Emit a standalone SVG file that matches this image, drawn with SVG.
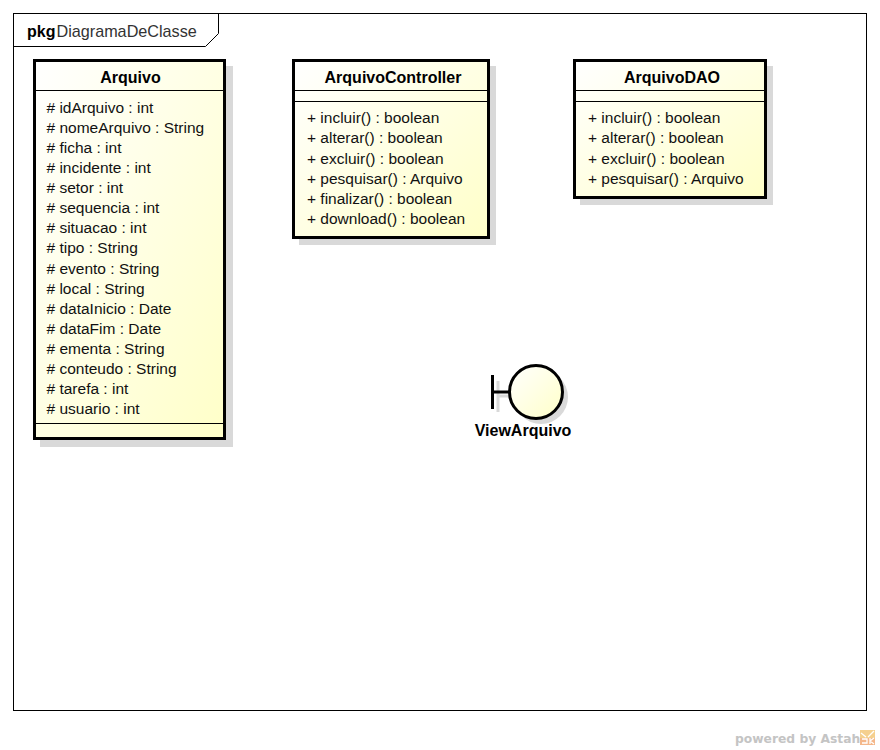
<svg xmlns="http://www.w3.org/2000/svg" width="880" height="750" viewBox="0 0 880 750">
<style>
text{font-family:"Liberation Sans",Arial,sans-serif;font-size:15.5px;fill:#111}
.t{font-size:16px;font-weight:700;text-anchor:middle;fill:#000}
.b{fill:url(#g);stroke:#000;stroke-width:3}
.s{fill:#d9d9d9}
.l{stroke:#000;stroke-width:1;fill:none}
</style>
<defs>
<linearGradient id="g" x1="0" y1="0" x2="1" y2="1"><stop offset="0" stop-color="#ffffff"/><stop offset="1" stop-color="#ffffc8"/></linearGradient>
</defs>
<rect width="880" height="750" fill="#fff"/>
<g id="package">
<rect x="13.5" y="13.5" width="853" height="697" fill="#fff" stroke="#000"/>
<path class="l" d="M13.5 46.5H205.5L218.5 33.5V13.5"/>
<text x="27" y="36.500" style="font-size:16px"><tspan font-weight="700" fill="#000">pkg</tspan><tspan dx="1" fill="#333" style="font-size:16.200px">DiagramaDeClasse</tspan></text>
</g>
<g id="connectors"></g>
<g id="Arquivo">
<rect class="s" x="40" y="66" width="193" height="381"/>
<rect class="b" x="34.500" y="60.500" width="190" height="378"/>
<path class="l" d="M35 90.500H224M35 423.500H224"/>
<text class="t" x="130.500" y="82.500">Arquivo</text>
<text x="46.500" y="113"># idArquivo : int</text>
<text x="46.500" y="133"># nomeArquivo : String</text>
<text x="46.500" y="153"># ficha : int</text>
<text x="46.500" y="173"># incidente : int</text>
<text x="46.500" y="193"># setor : int</text>
<text x="46.500" y="213"># sequencia : int</text>
<text x="46.500" y="233"># situacao : int</text>
<text x="46.500" y="253"># tipo : String</text>
<text x="46.500" y="274"># evento : String</text>
<text x="46.500" y="294"># local : String</text>
<text x="46.500" y="314"># dataInicio : Date</text>
<text x="46.500" y="334"># dataFim : Date</text>
<text x="46.500" y="354"># ementa : String</text>
<text x="46.500" y="374"># conteudo : String</text>
<text x="46.500" y="394"># tarefa : int</text>
<text x="46.500" y="414"># usuario : int</text>
</g>
<g id="ArquivoController">
<rect class="s" x="299" y="66" width="197" height="179"/>
<rect class="b" x="293.500" y="60.500" width="195" height="177"/>
<path class="l" d="M294 90.500H488M294 101.500H488"/>
<text class="t" x="393" y="82.500">ArquivoController</text>
<text x="307" y="123">+ incluir() : boolean</text>
<text x="307" y="143">+ alterar() : boolean</text>
<text x="307" y="164">+ excluir() : boolean</text>
<text x="307" y="184">+ pesquisar() : Arquivo</text>
<text x="307" y="204">+ finalizar() : boolean</text>
<text x="307" y="224">+ download() : boolean</text>
</g>
<g id="ArquivoDAO">
<rect class="s" x="580" y="66" width="193" height="139"/>
<rect class="b" x="574.500" y="60.500" width="191" height="137"/>
<path class="l" d="M575 90.500H765M575 101.500H765"/>
<text class="t" x="672" y="82.500">ArquivoDAO</text>
<text x="588" y="123">+ incluir() : boolean</text>
<text x="588" y="143">+ alterar() : boolean</text>
<text x="588" y="164">+ excluir() : boolean</text>
<text x="588" y="184">+ pesquisar() : Arquivo</text>
</g>
<g id="ViewArquivo">
<circle cx="541" cy="397" r="27" fill="#d9d9d9"/>
<path d="M498 381V412M498 396H515" stroke="#d9d9d9" stroke-width="3" fill="none"/>
<path d="M492.500 375V409M492.500 392H510" stroke="#000" stroke-width="3" fill="none"/>
<circle cx="536" cy="392" r="26.500" fill="url(#g)" stroke="#000" stroke-width="3"/>
<text class="t" x="523" y="435.500">ViewArquivo</text>
</g>
<g id="watermark">
<text x="735" y="742.500" style="font-family:'DejaVu Sans',sans-serif;font-size:12.300px;font-weight:700;fill:#c4c4c4">powered by Astah</text>
<rect x="860" y="730" width="15" height="15" fill="#f5d08f"/>
<path d="M860 738H875V745H860Z" fill="#f4b78a"/>
<path d="M861 733L866 737M874 731L868 737M862 743H867V739H862M870 738V744M870 741L874 738M870 741L874 744" stroke="#fff" stroke-width="1.300" fill="none"/>
</g>
</svg>
